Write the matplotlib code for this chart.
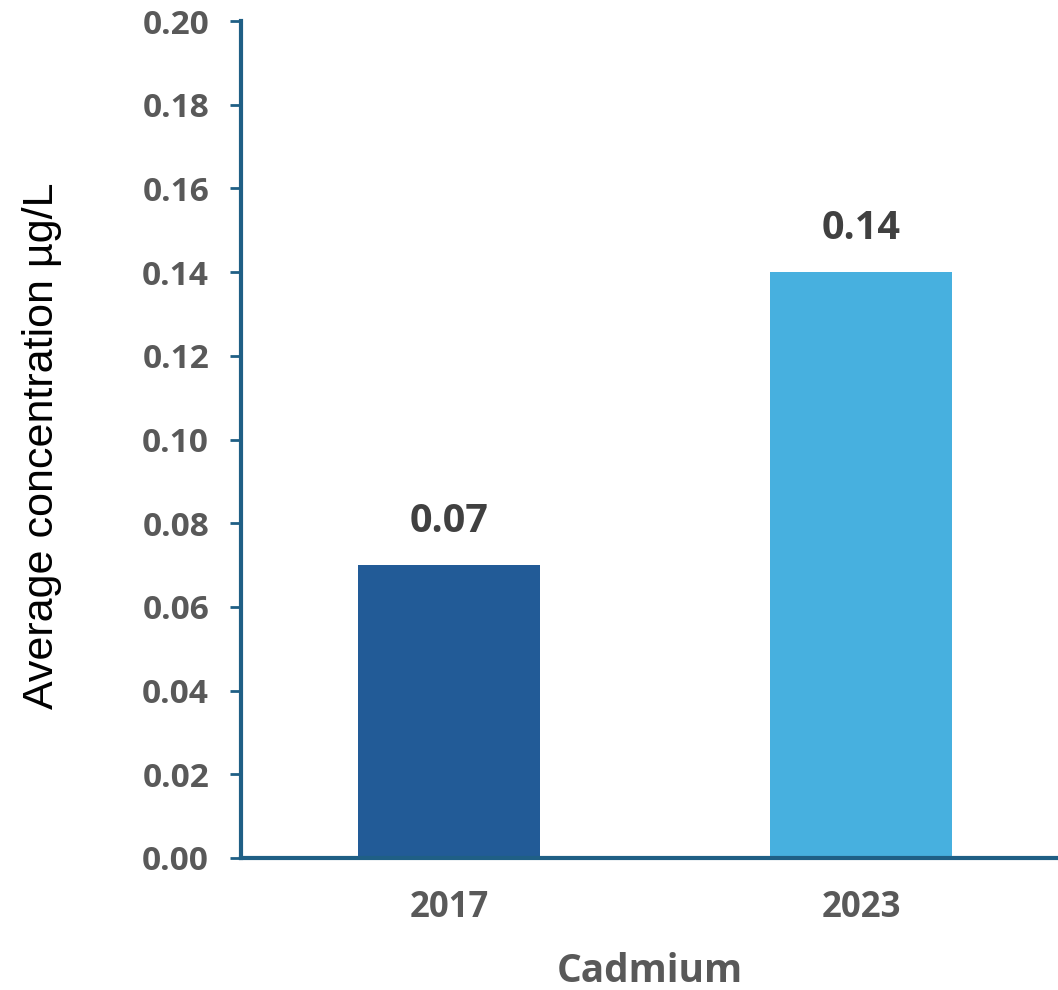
import matplotlib.pyplot as plt

years = ["2017", "2023"]
values = [0.07, 0.14]
bar_colors = ["#225B97", "#47B0DF"]
y_ticks = [0.00, 0.02, 0.04, 0.06, 0.08, 0.10, 0.12, 0.14, 0.16, 0.18, 0.20]

axis_color = "#1F5F85"
text_grey = "#595959"
bold_font = "Open Sans"

fig = plt.figure(figsize=(10.58, 9.9), dpi=100)
ax = fig.add_axes([241 / 1058, 132 / 990, 817 / 1058, 837 / 990])

x = range(len(years))
ax.bar(x, values, width=0.442, color=bar_colors)

for i, v in enumerate(values):
    ax.annotate(f"{v:.2f}", (i, v), xytext=(0, 17), textcoords="offset points",
                ha="center", va="bottom", fontsize=28.5, fontweight="bold",
                color="#404040", family=bold_font)

ax.set_xlim(-0.505, 1.478)
ax.set_ylim(0, 0.20)
ax.set_yticks(y_ticks)
ax.set_yticklabels([f"{t:.2f}" for t in y_ticks], fontsize=24, fontweight="bold",
                   color=text_grey, family=bold_font)
ax.set_xticks(list(x))
ax.set_xticklabels(years, fontsize=25, fontweight="bold", color=text_grey,
                   family=bold_font)

ax.tick_params(axis="y", length=8, width=2, color=axis_color, pad=15)
ax.tick_params(axis="x", length=0, pad=23)

for side in ["top", "right"]:
    ax.spines[side].set_visible(False)
for side in ["left", "bottom"]:
    ax.spines[side].set_color(axis_color)
    ax.spines[side].set_linewidth(3)

ax.set_xlabel("Cadmium", fontsize=28, fontweight="bold", color=text_grey,
              family=bold_font, labelpad=19)

fig.text(42 / 1058, 1 - 446 / 990, "Average concentration µg/L", rotation=90,
         ha="center", va="center", fontsize=31, family="Liberation Sans",
         color="black")

fig.savefig("out.png", dpi=100)
